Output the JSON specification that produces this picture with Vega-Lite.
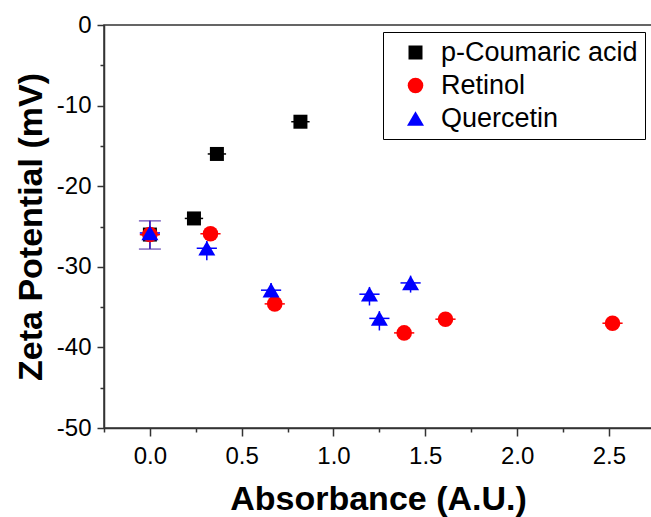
{
  "$schema": "https://vega.github.io/schema/vega-lite/v6.json",
  "width": 548,
  "height": 403,
  "autosize": {"type": "none"},
  "padding": {"left": 104, "top": 25, "right": 0, "bottom": 89},
  "background": "white",
  "config": {
    "view": {"stroke": "#333", "strokeWidth": 1.5},
    "font": "Liberation Sans",
    "axis": {
      "grid": false,
      "domainColor": "#333",
      "tickColor": "#333",
      "domainWidth": 1.5,
      "tickWidth": 1.5,
      "labelColor": "#000",
      "titleColor": "#000",
      "labelFont": "Liberation Sans",
      "titleFont": "Liberation Sans",
      "labelFontSize": 24,
      "titleFontSize": 34,
      "titleFontWeight": "bold"
    }
  },
  "data": {
    "values": [
      {"series": "p-Coumaric acid", "x": 0.0, "y": -26.0, "xlo": -0.05, "xhi": 0.05},
      {"series": "p-Coumaric acid", "x": 0.24, "y": -24.0, "xlo": 0.19, "xhi": 0.29},
      {"series": "p-Coumaric acid", "x": 0.365, "y": -16.0, "xlo": 0.315, "xhi": 0.415},
      {"series": "p-Coumaric acid", "x": 0.82, "y": -12.0, "xlo": 0.77, "xhi": 0.87},
      {"series": "Retinol", "x": 0.0, "y": -26.0, "xlo": -0.055, "xhi": 0.055},
      {"series": "Retinol", "x": 0.33, "y": -25.9, "xlo": 0.275, "xhi": 0.385},
      {"series": "Retinol", "x": 0.68, "y": -34.6, "xlo": 0.625, "xhi": 0.735},
      {"series": "Retinol", "x": 1.385, "y": -38.2, "xlo": 1.33, "xhi": 1.44},
      {"series": "Retinol", "x": 1.61, "y": -36.5, "xlo": 1.555, "xhi": 1.665},
      {"series": "Retinol", "x": 2.52, "y": -37.0, "xlo": 2.465, "xhi": 2.575},
      {"series": "Quercetin", "x": 0.0, "y": -25.8, "xlo": -0.055, "xhi": 0.055, "ylo": -27.8, "yhi": -24.3, "cap": true},
      {"series": "Quercetin", "x": 0.31, "y": -27.7, "xlo": 0.255, "xhi": 0.365, "ylo": -29.2, "yhi": -26.8},
      {"series": "Quercetin", "x": 0.66, "y": -32.9, "xlo": 0.605, "xhi": 0.715, "ylo": -34.2, "yhi": -32.0},
      {"series": "Quercetin", "x": 1.196, "y": -33.4, "xlo": 1.141, "xhi": 1.251, "ylo": -34.8, "yhi": -32.5},
      {"series": "Quercetin", "x": 1.25, "y": -36.4, "xlo": 1.195, "xhi": 1.305, "ylo": -37.9, "yhi": -35.5},
      {"series": "Quercetin", "x": 1.42, "y": -32.0, "xlo": 1.365, "xhi": 1.475, "ylo": -33.2, "yhi": -31.1}
    ]
  },
  "layer": [
    {
      "mark": {"type": "rule", "strokeWidth": 1.5},
      "encoding": {
        "x": {
          "field": "xlo", "type": "quantitative",
          "scale": {"domain": [-0.25, 2.735], "nice": false, "zero": false},
          "axis": {"orient": "bottom", "values": [-0.25, 0.25, 0.75, 1.25, 1.75, 2.25], "tickSize": 4, "labels": false, "domain": false, "title": null}
        },
        "x2": {"field": "xhi"},
        "y": {
          "field": "y", "type": "quantitative",
          "scale": {"domain": [-50, 0], "nice": false},
          "axis": {"orient": "left", "values": [-5, -15, -25, -35, -45], "tickSize": 4, "labels": false, "domain": false, "title": null}
        },
        "color": {
          "condition": [
            {"test": "datum.series === 'Retinol'", "value": "#ff0000"},
            {"test": "datum.series === 'Quercetin'", "value": "#0000ff"}
          ],
          "value": "#000000"
        }
      }
    },
    {
      "transform": [{"filter": "isValid(datum.ylo)"}],
      "mark": {"type": "rule", "strokeWidth": 1.5, "color": "#0000ff"},
      "encoding": {
        "x": {"field": "x", "type": "quantitative", "axis": null},
        "y": {"field": "ylo", "type": "quantitative", "axis": null},
        "y2": {"field": "yhi"}
      }
    },
    {
      "transform": [{"filter": "datum.cap === true"}],
      "mark": {"type": "errorbar", "ticks": true, "size": 22, "thickness": 1.5, "color": "#4b2aa8"},
      "encoding": {
        "x": {"field": "x", "type": "quantitative", "axis": null},
        "y": {"field": "ylo", "type": "quantitative", "axis": null},
        "y2": {"field": "yhi"}
      }
    },
    {
      "mark": {"type": "point", "filled": true, "opacity": 1, "strokeWidth": 0},
      "encoding": {
        "x": {
          "field": "x", "type": "quantitative",
          "axis": {"orient": "bottom", "values": [0, 0.5, 1, 1.5, 2, 2.5], "format": ".1f", "tickSize": 8, "labelPadding": 8, "title": "Absorbance (A.U.)", "titlePadding": 14}
        },
        "y": {
          "field": "y", "type": "quantitative",
          "axis": {"orient": "left", "values": [0, -10, -20, -30, -40, -50], "labelExpr": "datum.value == 0 ? '0' : '-' + abs(datum.value)", "tickSize": 7, "labelPadding": 6, "title": "Zeta Potential (mV)", "titlePadding": 8}
        },
        "color": {
          "field": "series", "type": "nominal",
          "scale": {"domain": ["p-Coumaric acid", "Retinol", "Quercetin"], "range": ["#000000", "#ff0000", "#0000ff"]},
          "legend": {"orient": "none", "legendX": 279, "legendY": 7, "title": null, "strokeColor": "#000", "padding": 7, "labelFontSize": 27, "labelFont": "Liberation Sans", "labelColor": "#000", "labelLimit": 400, "symbolOffset": 12, "labelOffset": 12, "rowPadding": 5, "fillColor": "white"}
        },
        "shape": {
          "field": "series", "type": "nominal",
          "scale": {"domain": ["p-Coumaric acid", "Retinol", "Quercetin"], "range": ["square", "circle", "triangle-up"]}
        },
        "size": {
          "field": "series", "type": "nominal",
          "scale": {"domain": ["p-Coumaric acid", "Retinol", "Quercetin"], "range": [196, 289, 470]}
        }
      }
    }
  ],
  "resolve": {
    "axis": {"x": "independent", "y": "independent"}
  }
}
